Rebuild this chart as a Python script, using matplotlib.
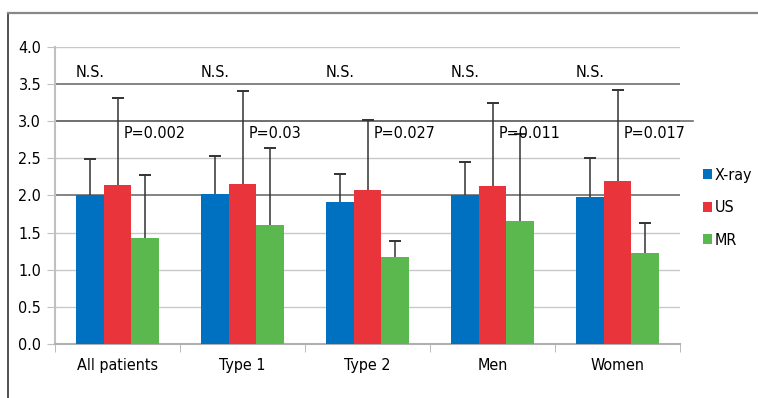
import numpy as np
import matplotlib.pyplot as plt
from matplotlib.lines import Line2D

# --- data ---
categories = ["All patients", "Type 1", "Type 2", "Men", "Women"]
xray = [2.00, 2.02, 1.91, 2.00, 1.98]
us = [2.14, 2.16, 2.08, 2.13, 2.19]
mr = [1.43, 1.60, 1.17, 1.66, 1.23]
xray_top = [2.49, 2.53, 2.29, 2.45, 2.51]
us_top = [3.31, 3.41, 3.01, 3.25, 3.42]
mr_top = [2.27, 2.64, 1.39, 2.83, 1.63]
p_labels = ["P=0.002", "P=0.03", "P=0.027", "P=0.011", "P=0.017"]
ns_label = "N.S."

series = [("X-ray", xray, xray_top, "#0070c0"),
          ("US", us, us_top, "#e8343a"),
          ("MR", mr, mr_top, "#5bb84e")]

plt.rcParams['font.family'] = ['DejaVu Sans']
plt.rcParams['font.stretch'] = 'condensed'
fs = 11.5

fig = plt.figure(figsize=(7.58, 3.98), dpi=100)
ax = fig.add_axes([0.0726, 0.1357, 0.8245, 0.7463])

# frame lines of the original panel
fig.add_artist(Line2D([0.011, 0.011], [0, 0.967], color="#333333", lw=1.2))
fig.add_artist(Line2D([0.011, 1.0], [0.967, 0.967], color="#888888", lw=1.6))

x = np.arange(len(categories))
w = 0.221
for i, (name, vals, tops, col) in enumerate(series):
    pos = x + (i - 1) * w
    ax.bar(pos, vals, w, color=col, label=name, zorder=3)
    # upper error bars only
    ax.vlines(pos, vals, tops, color="#333333", lw=1.1, zorder=4)
    ax.plot(pos, tops, ls="none", marker="_", ms=8, mew=1.4, color="#333333", zorder=4)

ax.set_xlim(-0.5, len(categories) - 0.5)
ax.set_ylim(0, 4.0)
ax.set_yticks(np.arange(0, 4.01, 0.5))
ax.set_yticklabels([f"{v:.1f}" for v in np.arange(0, 4.01, 0.5)], fontsize=fs)
ax.set_xticks(x)
ax.set_xticklabels(categories, fontsize=fs)
ax.tick_params(axis="x", length=0, pad=10)
ax.tick_params(axis="y", length=6, color="#c0c0c0", pad=4)
ax.set_xticks(np.arange(-0.5, len(categories), 1.0), minor=True)
ax.tick_params(axis="x", which="minor", length=6, color="#b0b0b0", direction="out")

for v in np.arange(0.5, 4.01, 0.5):
    dark = v in (2.0, 3.0, 3.5)
    ax.axhline(v, color="#6e6e6e" if dark else "#c8c8c8", lw=1.2 if dark else 1.0, zorder=1)
ax.plot([-0.5, 4.6], [3.0, 3.0], color="#6e6e6e", lw=1.2, clip_on=False, zorder=1)

for s in ["top", "right"]:
    ax.spines[s].set_visible(False)
ax.spines["left"].set_color("#c0c0c0")
ax.spines["left"].set_linewidth(1.5)
ax.spines["bottom"].set_color("#b0b0b0")
ax.spines["bottom"].set_linewidth(1.5)

for i in range(len(categories)):
    ax.text(x[i] - 1.5 * w, 3.66, ns_label, fontsize=fs, va="center", ha="left", zorder=5)
    ax.text(x[i] + 0.045, 2.84, p_labels[i], fontsize=fs, va="center", ha="left", zorder=5)

leg = ax.legend(loc="center left", bbox_to_anchor=(1.036, 0.458), frameon=False,
                fontsize=fs, handlelength=0.6, handleheight=0.6, handletextpad=0.15,
                labelspacing=1.1, borderpad=0, borderaxespad=0)

fig.savefig("out.png", dpi=100)
